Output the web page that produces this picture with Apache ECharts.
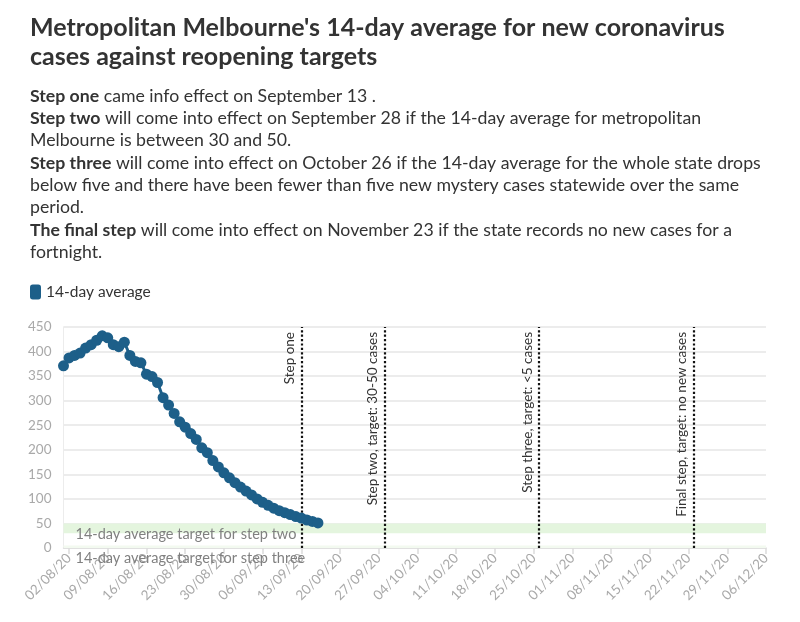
<!DOCTYPE html>
<html>
<head>
<meta charset="utf-8">
<script src="https://cdn.jsdelivr.net/npm/echarts@6/dist/echarts.min.js"></script>
<style>
html,body{margin:0;padding:0;background:#fff;}
#chart{width:800px;height:622px;}
</style>
</head>
<body>
<div id="chart"></div>
<script>
// Axis categories: 01/08/20 .. 06/12/20
const startDate = new Date(2020, 7, 1);
const endDate = new Date(2020, 11, 6);
const categories = [];
for (let d = new Date(startDate); d <= endDate; d.setDate(d.getDate() + 1)) {
  const dd = String(d.getDate()).padStart(2, '0');
  const mm = String(d.getMonth() + 1).padStart(2, '0');
  categories.push(dd + '/' + mm + '/20');
}

// 14-day average, metropolitan Melbourne (01/08/20 .. 16/09/20)
const avg14 = [
  371, 387, 392, 397, 407, 414, 423, 432, 428, 414,
  410, 419, 392, 380, 377, 354, 349, 337, 306, 291,
  274, 257, 246, 233, 221, 204, 194, 178, 165, 153,
  143, 133, 124, 116, 108, 100, 93, 87, 81, 76,
  72, 68, 64, 61, 57, 54, 51
];

// Reopening steps
const stepDates = ['13/09/20', '28/09/20', '26/10/20', '23/11/20'];
const stepLabels = ['Step one', 'Step two, target: 30-50 cases', 'Step three, target: <5 cases', 'Final step, target: no new cases'];

// Target bands
const bandStepTwo = [30, 50];
const bandStepThree = [0, 5];
const bandLabels = ['14-day average target for step two', '14-day average target for step three'];

const yTicks = { min: 0, max: 450, interval: 50 };

const titleText = "Metropolitan Melbourne's 14-day average for new coronavirus\ncases against reopening targets";
const bodyLines = [
  '{b|Step one} came info effect on September 13 .',
  '{b|Step two} will come into effect on September 28 if the 14-day average for metropolitan',
  'Melbourne is between 30 and 50.',
  '{b|Step three} will come into effect on October 26 if the 14-day average for the whole state drops',
  'below five and there have been fewer than five new mystery cases statewide over the same',
  'period.',
  '{b|The final step} will come into effect on November 23 if the state records no new cases for a',
  'fortnight.'
];

const FONT = 'Lato, "Open Sans", sans-serif';
const tickShow = (i) => (i - 1) % 7 === 0;

const chart = echarts.init(document.getElementById('chart'), null, { renderer: 'canvas' });
chart.setOption({
  backgroundColor: '#fff',
  animation: false,
  textStyle: { fontFamily: FONT },
  title: [
    {
      text: titleText,
      left: 30, top: 13, padding: 0,
      textStyle: { fontFamily: FONT, fontSize: 25, fontWeight: 'bold', color: '#333', lineHeight: 29.5 }
    },
    {
      text: bodyLines.join('\n'),
      left: 30, top: 85, padding: 0,
      textStyle: {
        fontFamily: FONT, fontSize: 17.7, fontWeight: 'normal', color: '#333', lineHeight: 22.3,
        rich: { b: { fontFamily: FONT, fontSize: 17.7, fontWeight: 'bold', color: '#333', lineHeight: 22.3 } }
      }
    }
  ],
  legend: {
    left: 30, top: 284, padding: 0,
    icon: 'roundRect', itemWidth: 11, itemHeight: 15, itemGap: 10,
    textStyle: { fontFamily: FONT, fontSize: 15.5, color: '#333' },
    data: ['14-day average']
  },
  grid: { left: 63.5, right: 34, top: 327, bottom: 74, containLabel: false, outerBoundsMode: 'none' },
  xAxis: {
    type: 'category',
    data: categories,
    boundaryGap: false,
    axisLine: { show: true, lineStyle: { color: '#dcdcdc', width: 1.5 } },
    axisTick: { show: true, interval: tickShow, length: 6, lineStyle: { color: '#dcdcdc', width: 1.5 } },
    axisLabel: {
      interval: tickShow, rotate: 45, color: '#a9a9a9', fontSize: 13.5, fontFamily: FONT, margin: 8
    },
    splitLine: { show: false }
  },
  yAxis: {
    type: 'value',
    min: yTicks.min, max: yTicks.max, interval: yTicks.interval,
    axisLine: { show: true, lineStyle: { color: '#ececec', width: 1 } },
    axisTick: { show: false },
    axisLabel: { color: '#a9a9a9', fontSize: 13.5, fontFamily: FONT, margin: 12 },
    splitLine: { show: true, lineStyle: { color: '#e6e6e6', width: 1.5 } }
  },
  series: [
    {
      name: '14-day average',
      type: 'line',
      data: avg14,
      color: '#1d5f89',
      symbol: 'circle',
      symbolSize: 11,
      showAllSymbol: true,
      lineStyle: { width: 3, color: '#1d5f89' },
      itemStyle: { color: '#1d5f89' },
      z: 5,
      markArea: {
        silent: true,
        data: [
          [
            { yAxis: bandStepTwo[0], itemStyle: { color: '#e4f5de' },
              label: { show: true, position: [12, 11], align: 'left', verticalAlign: 'middle', formatter: bandLabels[0],
                       color: '#808080', fontSize: 14.5, fontFamily: FONT } },
            { yAxis: bandStepTwo[1] }
          ],
          [
            { yAxis: bandStepThree[0], itemStyle: { color: '#f3faf0' },
              label: { show: true, position: [12, 12.5], align: 'left', verticalAlign: 'middle', formatter: bandLabels[1],
                       color: '#808080', fontSize: 14.5, fontFamily: FONT } },
            { yAxis: bandStepThree[1] }
          ]
        ]
      },
      markLine: {
        silent: true,
        symbol: ['none', 'none'],
        lineStyle: { type: 'dotted', color: '#111', width: 2.2 },
        label: { show: true, position: 'insideEndTop', color: '#333', fontSize: 13.5, fontFamily: FONT, distance: 5 },
        data: stepDates.map((d, i) => ({ xAxis: d, label: { formatter: stepLabels[i] } }))
      }
    }
  ]
});
</script>
</body>
</html>
